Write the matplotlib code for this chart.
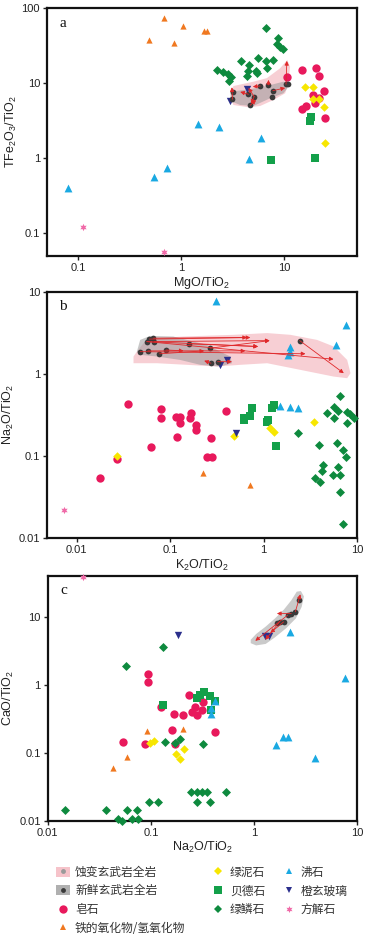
import matplotlib
matplotlib.use("Agg")
import matplotlib.pyplot as plt
from matplotlib.lines import Line2D
from matplotlib.patches import Patch, Polygon
from matplotlib.ticker import FixedLocator, FixedFormatter

plt.rcParams['font.family'] = ['Liberation Sans', 'Noto Sans CJK SC', 'DejaVu Sans']
plt.rcParams['mathtext.fontset'] = 'custom'
plt.rcParams['mathtext.rm'] = 'Liberation Sans'
plt.rcParams['mathtext.it'] = 'Liberation Sans'

# ---------------- colours ----------------
C_SAP = '#e8195c'
C_CHL = '#f7e600'
C_BEI = '#13a04a'
C_CEL = '#0e8a3e'
C_ZEO = '#1aa9e2'
C_PAL = '#2b2f8c'
C_IRON = '#f07820'
C_CAL = '#f06aa8'
C_FRESH = '#3a3a3a'
C_ARROW = '#e0282a'
C_ALT_REG = '#f6c3ca'
C_FRESH_REG = '#9a9a9a'

# ---------------- panel a : MgO/TiO2 vs TFe2O3/TiO2 ----------------
sap_a_x = [15, 20.6, 22.2, 10.8, 24.3, 19.2, 20.1, 16.5, 15, 25, 22]
sap_a_y = [14.9, 16, 12.4, 11.9, 7.9, 6.9, 5.35, 4.9, 4.45, 3.37, 6.2]
chl_a_x = [16.1, 19.4, 19.4, 22, 24.6, 25]
chl_a_y = [8.9, 8.9, 6.05, 6.05, 4.7, 1.56]
bei_a_x = [7.5, 20, 18.3, 18]
bei_a_y = [0.93, 1.0, 3.5, 3.1]
cel_a_x = [6.7, 8.7, 8.55, 9.2, 9.8, 2.26, 2.56, 2.9, 3.06, 2.96, 3.83, 4.64, 4.53, 4.43,
           5.38, 5.67, 6.73, 7.9, 6.84, 5.47]
cel_a_y = [55, 40, 33, 30.6, 28.2, 14.9, 14.2, 13.2, 11.9, 10.6, 19.7, 17.4, 14.6, 12.4,
           14.6, 21.4, 19.7, 20.3, 16, 13.7]
zeo_a_x = [1.48, 2.32, 6.0, 0.08, 0.55, 0.74, 4.6]
zeo_a_y = [2.8, 2.6, 1.85, 0.39, 0.56, 0.72, 0.96]
pal_a_x = [3.0, 4.4]
pal_a_y = [5.8, 8.2]
iron_a_x = [0.68, 1.06, 0.49, 0.85, 1.66, 1.81]
iron_a_y = [73, 58, 38, 34, 49, 49]
cal_a_x = [0.113, 0.68]
cal_a_y = [0.117, 0.055]
fresh_a_x = [3.17, 4.71, 5.15, 5.89, 7.08, 7.82, 7.74, 10.5, 11.1, 4.53, 3.24]
fresh_a_y = [6.05, 5.03, 6.56, 9.12, 9.4, 7.89, 6.44, 9.6, 9.7, 7.06, 7.65]
# fresh -> altered pairs
arr_a_x0 = [10.5, 7.08, 5.15, 3.17, 4.71, 7.82, 4.53, 5.89, 5.15]
arr_a_y0 = [9.6, 9.4, 6.56, 6.05, 5.03, 7.89, 7.06, 9.12, 6.56]
arr_a_x1 = [10.7, 7.1, 4.53, 3.13, 5.38, 10.3, 3.77, 5.0, 4.8]
arr_a_y1 = [19.7, 11.0, 8.57, 8.76, 5.9, 8.57, 7.6, 8.9, 5.3]
alt_reg_a_x = [3.24, 5.07, 6.84, 9.2, 10.8, 11.5, 11.1, 10.3, 7.93, 5.89, 4.53, 3.24, 3.01]
alt_reg_a_y = [9.1, 10.4, 11.6, 15.7, 20.3, 16.5, 9.9, 7.28, 5.92, 4.92, 4.73, 5.07, 6.56]
fresh_reg_a_x = [3.01, 4.71, 6.84, 9.9, 11.5, 9.9, 7.36, 5.07, 3.77, 3.13]
fresh_reg_a_y = [7.65, 8.24, 9.12, 10.4, 9.4, 7.28, 6.24, 4.92, 5.07, 5.62]

# ---------------- panel b : K2O/TiO2 vs Na2O/TiO2 ----------------
sap_b_x = [0.0357, 0.080, 0.080, 0.116, 0.128, 0.126, 0.168, 0.164, 0.190, 0.190, 0.398,
           0.118, 0.273, 0.0625, 0.247, 0.280, 0.0269, 0.0178]
sap_b_y = [0.43, 0.37, 0.287, 0.30, 0.30, 0.254, 0.331, 0.287, 0.238, 0.207, 0.356,
           0.171, 0.164, 0.127, 0.096, 0.096, 0.0906, 0.054]
chl_b_x = [0.0269, 0.476, 1.18, 1.28, 3.49]
chl_b_y = [0.1, 0.175, 0.217, 0.197, 0.261]
bei_b_x = [0.751, 0.72, 0.61, 1.30, 1.23, 1.11, 0.62, 1.09, 1.37]
bei_b_y = [0.381, 0.307, 0.287, 0.418, 0.381, 0.274, 0.274, 0.261, 0.133]
cel_b_x = [6.64, 4.79, 5.63, 6.21, 7.83, 8.5, 5.63, 7.83, 9.37, 2.31, 3.89, 6.12, 7.1, 7.64,
           4.29, 4.23, 6.21, 5.55, 6.53, 3.58, 3.98, 6.53, 7.1]
cel_b_y = [0.543, 0.331, 0.392, 0.356, 0.346, 0.324, 0.287, 0.254, 0.287, 0.191, 0.136, 0.142,
           0.118, 0.0975, 0.077, 0.0658, 0.0736, 0.0582, 0.0582, 0.053, 0.0482, 0.0364, 0.0146]
zeo_b_x = [0.309, 7.6, 5.9, 1.93, 1.9, 1.81, 1.48, 1.93, 2.34]
zeo_b_y = [7.8, 3.97, 2.26, 2.12, 1.87, 1.71, 0.41, 0.39, 0.38]
iron_b_x = [0.227, 0.708]
iron_b_y = [0.061, 0.044]
pal_b_x = [0.509, 0.406, 0.337]
pal_b_y = [0.188, 1.48, 1.29]
cal_b_x = [0.0073]
cal_b_y = [0.0217]
fresh_b_x = [0.0477, 0.0577, 0.0562, 0.060, 0.0662, 0.0674, 0.0768, 0.0906, 0.157, 0.268,
             0.273, 0.321, 2.43]
fresh_b_y = [1.87, 1.91, 2.48, 2.66, 2.73, 2.48, 1.76, 1.96, 2.33, 2.06, 1.35, 1.41, 2.55]
arr_b_x0 = [0.0662, 0.060, 0.0674, 0.0562, 0.0577, 0.0768, 0.0906, 0.157, 0.268, 0.0562,
            2.43, 0.273, 0.321, 0.0477]
arr_b_y0 = [2.73, 2.66, 2.48, 2.48, 1.91, 1.76, 1.96, 2.33, 2.06, 2.48, 2.55, 1.35, 1.41, 1.87]
arr_b_x1 = [0.664, 0.72, 1.16, 0.871, 0.637, 0.231, 0.139, 0.871, 1.16, 5.6, 7.2, 0.231, 0.458, 2.8]
arr_b_y1 = [2.78, 2.78, 2.55, 2.16, 1.91, 1.91, 1.91, 2.16, 2.55, 1.51, 1.02, 1.45, 1.41, 1.76]
alt_reg_b_x = [0.0405, 0.044, 0.0518, 0.072, 0.139, 0.477, 1.09, 1.93, 3.73, 5.62, 7.83, 8.5,
               7.83, 5.62, 2.47, 1.09, 0.562, 0.316, 0.151, 0.072, 0.0405]
alt_reg_b_y = [1.63, 1.87, 2.37, 2.73, 2.86, 3.0, 3.15, 3.0, 2.6, 2.16, 1.48, 1.02,
               0.886, 0.927, 1.12, 1.35, 1.29, 1.23, 1.29, 1.35, 1.35]
fresh_reg_b_x = [0.044, 0.0477, 0.061, 0.108, 0.151, 0.247, 0.343, 0.44, 0.458, 0.343, 0.21,
                 0.128, 0.072, 0.0477]
fresh_reg_b_y = [1.87, 2.6, 2.91, 2.86, 2.6, 2.26, 1.87, 1.63, 1.35, 1.23, 1.29, 1.48, 1.63, 1.71]

# ---------------- panel c : Na2O/TiO2 vs CaO/TiO2 ----------------
sap_c_x = [0.0948, 0.0948, 0.126, 0.232, 0.168, 0.205, 0.25, 0.28, 0.313, 0.269, 0.324,
           0.0542, 0.088, 0.16, 0.17, 0.421]
sap_c_y = [1.44, 1.11, 0.474, 0.706, 0.371, 0.358, 0.401, 0.358, 0.425, 0.474, 0.562,
           0.142, 0.134, 0.216, 0.134, 0.204]
bei_c_x = [0.131, 0.28, 0.33, 0.371, 0.421, 0.383, 0.30]
bei_c_y = [0.502, 0.631, 0.789, 0.682, 0.582, 0.425, 0.70]
zeo_c_x = [2.22, 7.69, 0.415, 0.383, 0.383, 1.65, 1.91, 2.12, 3.94]
zeo_c_y = [6.0, 1.27, 0.575, 0.45, 0.371, 0.13, 0.168, 0.168, 0.0843]
chl_c_x = [0.0985, 0.1076, 0.175, 0.212, 0.193]
chl_c_y = [0.14, 0.15, 0.0958, 0.112, 0.08]
iron_c_x = [0.0914, 0.205, 0.0593, 0.0434]
iron_c_y = [0.209, 0.223, 0.0873, 0.0589]
pal_c_x = [0.183, 1.29, 1.39]
pal_c_y = [5.38, 5.2, 5.2]
cal_c_x = [0.0219]
cal_c_y = [38.7]
cel_c_x = [0.132, 0.0575, 0.138, 0.19, 0.317, 0.17, 0.246, 0.28, 0.313, 0.35, 0.534, 0.28,
           0.377, 0.096, 0.117, 0.0147, 0.0368, 0.0585, 0.0732, 0.0485, 0.0523, 0.0654, 0.0759]
cel_c_y = [3.55, 1.9, 0.145, 0.159, 0.133, 0.137, 0.0262, 0.0262, 0.0262, 0.0262, 0.0262,
           0.019, 0.019, 0.019, 0.019, 0.0144, 0.0144, 0.0144, 0.0144, 0.0106, 0.0100, 0.0106,
           0.0106]
fresh_c_x = [2.71, 2.52, 2.3, 2.12, 1.94, 1.77, 1.67]
fresh_c_y = [17.6, 11.9, 11.2, 10.6, 8.44, 8.44, 8.0]
arr_c_x0 = [2.52, 2.12, 1.94, 1.77, 2.3]
arr_c_y0 = [11.9, 10.6, 8.44, 8.44, 11.2]
arr_c_x1 = [2.82, 1.03, 1.44, 1.29, 1.67]
arr_c_y1 = [21.5, 4.44, 5.82, 4.6, 11.2]
fresh_reg_c_x = [0.93, 1.05, 1.3, 1.6, 1.95, 2.3, 2.6, 2.85, 3.05, 2.9, 2.55, 2.05, 1.6, 1.3, 1.05, 0.93]
fresh_reg_c_y = [4.6, 5.6, 7.2, 9.5, 12.8, 17.5, 23.5, 24, 20, 14, 9.5, 6.8, 5.0, 4.0, 3.8, 4.1]

# ---------------- figure ----------------
fig = plt.figure(figsize=(3.67, 9.41), dpi=100)
axa = fig.add_axes([0.128, 0.7283, 0.845, 0.263])
axb = fig.add_axes([0.128, 0.4286, 0.845, 0.2611])
axc = fig.add_axes([0.130, 0.1279, 0.843, 0.260])

MS = dict(
    sap=dict(marker='o', s=36, c=C_SAP),
    chl=dict(marker='D', s=19, c=C_CHL),
    bei=dict(marker='s', s=36, c=C_BEI),
    cel=dict(marker='D', s=21, c=C_CEL),
    zeo=dict(marker='^', s=32, c=C_ZEO),
    pal=dict(marker='v', s=28, c=C_PAL),
    iron=dict(marker='^', s=20, c=C_IRON),
    cal=dict(marker=(6, 1, 0), s=28, c=C_CAL),
    fresh=dict(marker='o', s=17, c=C_FRESH),
)


def draw(ax, sets, arrows, regions):
    for (rx, ry, col, al) in regions:
        ax.add_patch(Polygon(list(zip(rx, ry)), closed=True, facecolor=col,
                             edgecolor='none', alpha=al, zorder=1))
    for key, x, y in sets:
        ax.scatter(x, y, linewidths=0, zorder=3, clip_on=False, **MS[key])
    x0, y0, x1, y1 = arrows
    for a, b, c, d in zip(x0, y0, x1, y1):
        ax.annotate('', xy=(c, d), xytext=(a, b),
                    arrowprops=dict(arrowstyle='-|>', color=C_ARROW, lw=0.6,
                                    mutation_scale=6, shrinkA=0, shrinkB=0),
                    zorder=4)


draw(axa,
     [('iron', iron_a_x, iron_a_y), ('zeo', zeo_a_x, zeo_a_y), ('cal', cal_a_x, cal_a_y),
      ('cel', cel_a_x, cel_a_y), ('sap', sap_a_x, sap_a_y), ('chl', chl_a_x, chl_a_y),
      ('bei', bei_a_x, bei_a_y), ('pal', pal_a_x, pal_a_y), ('fresh', fresh_a_x, fresh_a_y)],
     (arr_a_x0, arr_a_y0, arr_a_x1, arr_a_y1),
     [(alt_reg_a_x, alt_reg_a_y, C_ALT_REG, 0.8), (fresh_reg_a_x, fresh_reg_a_y, C_FRESH_REG, 0.55)])

draw(axb,
     [('sap', sap_b_x, sap_b_y), ('bei', bei_b_x, bei_b_y), ('cel', cel_b_x, cel_b_y),
      ('chl', chl_b_x, chl_b_y), ('zeo', zeo_b_x, zeo_b_y), ('iron', iron_b_x, iron_b_y),
      ('pal', pal_b_x, pal_b_y), ('cal', cal_b_x, cal_b_y), ('fresh', fresh_b_x, fresh_b_y)],
     (arr_b_x0, arr_b_y0, arr_b_x1, arr_b_y1),
     [(alt_reg_b_x, alt_reg_b_y, C_ALT_REG, 0.8), (fresh_reg_b_x, fresh_reg_b_y, C_FRESH_REG, 0.55)])

draw(axc,
     [('sap', sap_c_x, sap_c_y), ('bei', bei_c_x, bei_c_y), ('zeo', zeo_c_x, zeo_c_y),
      ('chl', chl_c_x, chl_c_y), ('iron', iron_c_x, iron_c_y), ('cel', cel_c_x, cel_c_y),
      ('pal', pal_c_x, pal_c_y), ('cal', cal_c_x, cal_c_y), ('fresh', fresh_c_x, fresh_c_y)],
     (arr_c_x0, arr_c_y0, arr_c_x1, arr_c_y1),
     [(fresh_reg_c_x, fresh_reg_c_y, '#b4b4b4', 0.7)])

# axes styling
xt_a = [0.1, 1, 10]; xl_a = ['0.1', '1', '10']
yt_a = [0.1, 1, 10, 100]; yl_a = ['0.1', '1', '10', '100']
xt_b = [0.01, 0.1, 1, 10]; xl_b = ['0.01', '0.1', '1', '10']
yt_b = [0.01, 0.1, 1, 10]; yl_b = ['0.01', '0.1', '1', '10']
xt_c = [0.01, 0.1, 1, 10]; xl_c = ['0.01', '0.1', '1', '10']
yt_c = [0.01, 0.1, 1, 10]; yl_c = ['0.01', '0.1', '1', '10']

specs = [
    (axa, (0.05, 51.5), (0.049, 100), xt_a, xl_a, yt_a, yl_a,
     r'$\mathregular{MgO/TiO_2}$', r'$\mathregular{TFe_2O_3/TiO_2}$', 'a'),
    (axb, (0.0048, 10), (0.01, 10), xt_b, xl_b, yt_b, yl_b,
     r'$\mathregular{K_2O/TiO_2}$', r'$\mathregular{Na_2O/TiO_2}$', 'b'),
    (axc, (0.01, 10), (0.01, 40), xt_c, xl_c, yt_c, yl_c,
     r'$\mathregular{Na_2O/TiO_2}$', r'$\mathregular{CaO/TiO_2}$', 'c'),
]
for ax, xlim, ylim, xt, xl, yt, yl, xlab, ylab, let in specs:
    ax.set_xscale('log'); ax.set_yscale('log')
    ax.set_xlim(*xlim); ax.set_ylim(*ylim)
    ax.xaxis.set_major_locator(FixedLocator(xt))
    ax.xaxis.set_major_formatter(FixedFormatter(xl))
    ax.yaxis.set_major_locator(FixedLocator(yt))
    ax.yaxis.set_major_formatter(FixedFormatter(yl))
    ax.minorticks_off()
    ax.tick_params(direction='out', length=3, width=1, labelsize=8, pad=2, colors='#222222')
    for sp in ax.spines.values():
        sp.set_linewidth(1.6)
        sp.set_color('#111111')
    ax.set_xlabel(xlab, fontsize=9, labelpad=2, color='#222222')
    ax.set_ylabel(ylab, fontsize=9, labelpad=2, color='#222222')
    ax.text(0.04, 0.94, let, transform=ax.transAxes, fontsize=11,
            family='Liberation Serif', va='center', ha='left', color='#111111')

# ---------------- legend ----------------
def mk(marker, color, ms):
    return Line2D([], [], linestyle='none', marker=marker, color=color,
                  markeredgewidth=0, markersize=ms)

h_alt = (Patch(facecolor=C_ALT_REG, edgecolor='none'), mk('o', '#9a9a9a', 3.5))
h_fresh = (Patch(facecolor='#b0b0b0', edgecolor='none'), mk('o', C_FRESH, 3.5))
col1 = [h_alt, h_fresh, mk('o', C_SAP, 6), mk('^', C_IRON, 5)]
lab1 = ['蚀变玄武岩全岩', '新鲜玄武岩全岩', '皂石', '铁的氧化物/氢氧化物']
col2 = [mk('D', C_CHL, 4.5), mk('s', C_BEI, 6), mk('D', C_CEL, 4.5)]
lab2 = ['绿泥石', '贝德石', '绿鳞石']
col3 = [mk('^', C_ZEO, 5), mk('v', C_PAL, 5), mk((6, 1, 0), C_CAL, 5)]
lab3 = ['沸石', '橙玄玻璃', '方解石']

for hs, ls, x0 in [(col1, lab1, 0.153), (col2, lab2, 0.575), (col3, lab3, 0.768)]:
    fig.legend(hs, ls, loc='upper left', bbox_to_anchor=(x0, 0.080), frameon=False,
               prop={'family': ['Noto Sans CJK SC', 'DejaVu Sans'], 'size': 8.5},
               labelcolor='#333333', handlelength=1.2, handleheight=0.9,
               handletextpad=0.4, labelspacing=0.48, borderpad=0, borderaxespad=0)

fig.savefig('out.png', dpi=100)
